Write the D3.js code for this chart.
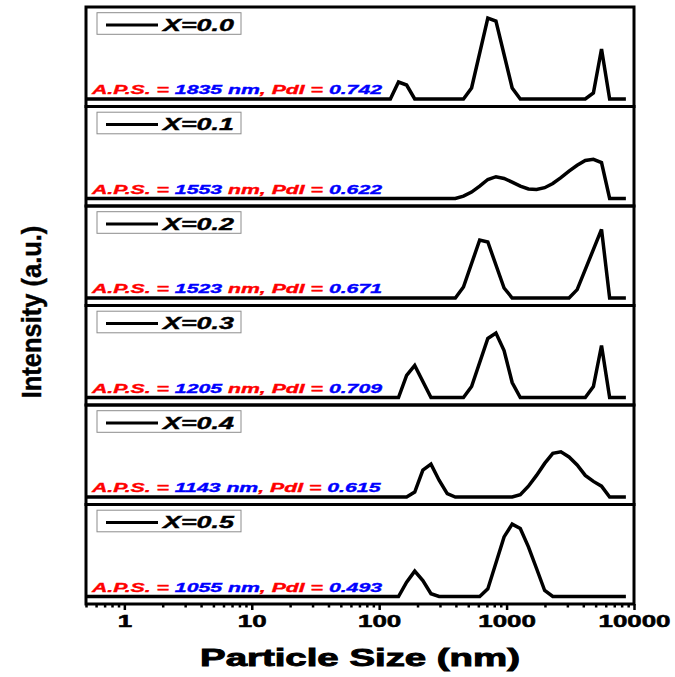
<!DOCTYPE html>
<html>
<head>
<meta charset="utf-8">
<script src="https://cdn.jsdelivr.net/npm/d3@7/dist/d3.min.js"></script>
<style>
  body { margin: 0; background: #fff; }
  text { font-family: 'Liberation Sans', Arial, sans-serif; font-weight: bold; }
</style>
</head>
<body>
<div id="chart"></div>
<script>
document.addEventListener('DOMContentLoaded', init, false);

var width = 675;
var height = 677;
var margin = { top: 7, right: 41, bottom: 73, left: 86 };

// sample labels and the numbers printed in each panel
var samples = ['X=0.0', 'X=0.1', 'X=0.2', 'X=0.3', 'X=0.4', 'X=0.5'];
var aps = ['1835', '1553', '1523', '1205', '1143', '1055'];
var pdi = ['0.742', '0.622', '0.671', '0.709', '0.615', '0.493'];
var nmBlue = [true, false, false, false, true, true];

// size bins (nm) and intensity (%)
var size0 = [0.4, 122.4, 141.8, 164.2, 190.1, 458.7, 531.2, 712.4, 825.0, 1106, 1281, 4145, 4801, 5560, 6439, 8635];
var int0  = [0, 0, 4.25, 3.5, 0, 0, 2.75, 20.25, 19.5, 2.75, 0, 0, 1.5, 12.5, 0, 0];

var size1 = [0.4, 396.1, 458.7, 531.2, 615.1, 712.4, 825.0, 955.4, 1106, 1281, 1484, 1718, 1990, 2305, 2669, 3091, 3580, 4145, 4801, 5560, 6439, 8635];
var int1  = [0, 0, 0.6, 1.6, 3.1, 4.75, 5.45, 5.0, 4.1, 3.1, 2.4, 2.25, 2.7, 3.75, 5.2, 6.85, 8.3, 9.5, 9.8, 9.0, 0, 0];

var size2 = [0.4, 396.1, 458.7, 615.1, 712.4, 955.4, 1106, 3091, 3580, 5560, 6439, 8635];
var int2  = [0, 0, 2.75, 14.5, 14, 2.5, 0, 0, 2.1, 17.15, 0, 0];

var size3 = [0.4, 141.8, 164.2, 190.1, 255.0, 458.7, 531.2, 712.4, 825.0, 955.4, 1106, 1281, 4145, 4801, 5560, 6439, 8635];
var int3  = [0, 0, 5.5, 8, 0, 0, 2.75, 14.75, 16.1, 11.75, 3.75, 0, 0, 2.75, 13, 0, 0];

var size4 = [0.4, 164.2, 190.1, 220.2, 255.0, 295.3, 342.0, 396.1, 1106, 1281, 1484, 1718, 1990, 2305, 2669, 3091, 3580, 4145, 4801, 5560, 6439, 8635];
var int4  = [0, 0, 1.25, 6.7, 8.2, 4.2, 0.85, 0, 0, 0.6, 2.7, 5.4, 8.4, 10.9, 11.3, 10, 8, 5.4, 3.9, 2.7, 0, 0];

var size5 = [0.4, 141.8, 164.2, 190.1, 220.2, 255.0, 295.3, 615.1, 712.4, 955.4, 1106, 1281, 1484, 1718, 1990, 2305, 8635];
var int5  = [0, 0, 3.6, 6.35, 4, 0.7, 0, 0, 1.9, 14.9, 18.1, 17, 12.4, 7, 1.5, 0, 0];

var sizes = [size0, size1, size2, size3, size4, size5];
var intensities = [int0, int1, int2, int3, int4, int5];

var xDomain = [0.5, 10000];
var yDomain = [-1.875, 23];
var xTickLabels = [1, 10, 100, 1000, 10000];

var red = '#ff0000';
var blue = '#0000ff';

function init() {

  var innerW = width - margin.left - margin.right;
  var innerH = height - margin.top - margin.bottom;
  var panelH = innerH / samples.length;

  var svg = d3.select('#chart')
    .append('svg')
      .attr('width', width)
      .attr('height', height);

  var xScale = d3.scaleLog()
    .domain(xDomain)
    .range([0, innerW]);

  var yScale = d3.scaleLinear()
    .domain(yDomain)
    .range([panelH, 0]);

  svg.append('defs')
    .append('clipPath')
      .attr('id', 'clip')
    .append('rect')
      .attr('width', innerW)
      .attr('height', panelH);

  var line = d3.line()
    .x(function (d) { return xScale(d.size); })
    .y(function (d) { return yScale(d.value); });

  var chart = svg.append('g')
    .attr('transform', 'translate(' + margin.left + ',' + margin.top + ')');

  samples.forEach(function (name, i) {

    var data = sizes[i].map(function (s, j) {
      return { size: s, value: intensities[i][j] };
    });

    var panel = chart.append('g')
      .attr('transform', 'translate(0,' + (i * panelH) + ')');

    panel.append('path')
      .datum(data)
      .attr('clip-path', 'url(#clip)')
      .attr('fill', 'none')
      .attr('stroke', '#000')
      .attr('stroke-width', 3.5)
      .attr('d', line);

    // A.P.S. / PdI annotation
    var note = panel.append('text')
      .attr('transform', 'translate(6,87) scale(1.7,1)')
      .style('font-size', '12.5px')
      .style('font-style', 'italic')
      .style('stroke-width', 0.35);

    function part(color, txt) {
      note.append('tspan')
        .attr('fill', color)
        .attr('stroke', color)
        .text(txt);
    }

    part(red, 'A.P.S. = ');
    if (nmBlue[i]) {
      part(blue, aps[i] + ' nm');
      part(red, ', PdI = ');
    } else {
      part(blue, aps[i] + ' ');
      part(red, 'nm, PdI = ');
    }
    part(blue, pdi[i]);

    // legend box
    panel.append('rect')
      .attr('x', 11)
      .attr('y', 5.7)
      .attr('width', 144)
      .attr('height', 21.6)
      .attr('fill', '#fff')
      .attr('stroke', '#8c8c8c')
      .attr('stroke-width', 1);

    panel.append('line')
      .attr('x1', 20)
      .attr('x2', 72)
      .attr('y1', 18)
      .attr('y2', 18)
      .attr('stroke', '#000')
      .attr('stroke-width', 3);

    panel.append('text')
      .attr('transform', 'translate(77,23.7) scale(1.58,1)')
      .style('font-size', '17px')
      .style('font-style', 'italic')
      .attr('fill', '#000')
      .attr('stroke', '#000')
      .attr('stroke-width', 0.4)
      .text(name);

    panel.append('rect')
      .attr('width', innerW)
      .attr('height', panelH)
      .attr('fill', 'none')
      .attr('stroke', '#000')
      .attr('stroke-width', 3);
  });

  // bottom axis with log minor ticks
  var tickValues = [];
  for (var p = -1; p < 4; p++) {
    for (var m = 1; m < 10; m++) {
      var v = m * Math.pow(10, p);
      if (v >= xDomain[0] && v <= xDomain[1]) tickValues.push(v);
    }
  }
  tickValues.push(10000);

  var axis = chart.append('g')
      .attr('transform', 'translate(0,' + innerH + ')')
      .call(d3.axisBottom(xScale)
        .tickValues(tickValues)
        .tickSize(6)
        .tickFormat(function (d) {
          return xTickLabels.indexOf(d) > -1 ? d3.format('d')(d) : '';
        }));

  axis.select('.domain').remove();

  axis.selectAll('.tick line')
      .attr('stroke', '#000')
      .attr('stroke-width', 2.5)
      .attr('y2', function (d) {
        return xTickLabels.indexOf(d) > -1 ? 6 : 3.5;
      });

  axis.selectAll('.tick text')
      .attr('y', 23)
      .attr('dy', null)
      .attr('fill', '#000')
      .attr('stroke', '#000')
      .attr('stroke-width', 0.5)
      .attr('transform', 'scale(1.62,1)')
      .style('font-size', '16px')
      .style('font-family', "'Liberation Sans', Arial, sans-serif");

  svg.append('text')
      .attr('transform', 'translate(' + (margin.left + innerW / 2) + ',666) scale(1.6,1)')
      .attr('text-anchor', 'middle')
      .attr('stroke', '#000')
      .attr('stroke-width', 0.9)
      .style('font-size', '24px')
      .text('Particle Size (nm)');

  svg.append('text')
      .attr('transform', 'translate(41,312) rotate(-90) scale(0.98,1.08)')
      .attr('text-anchor', 'middle')
      .attr('stroke', '#000')
      .attr('stroke-width', 0.4)
      .style('font-size', '26px')
      .text('Intensity (a.u.)');
}
</script>
</body>
</html>
